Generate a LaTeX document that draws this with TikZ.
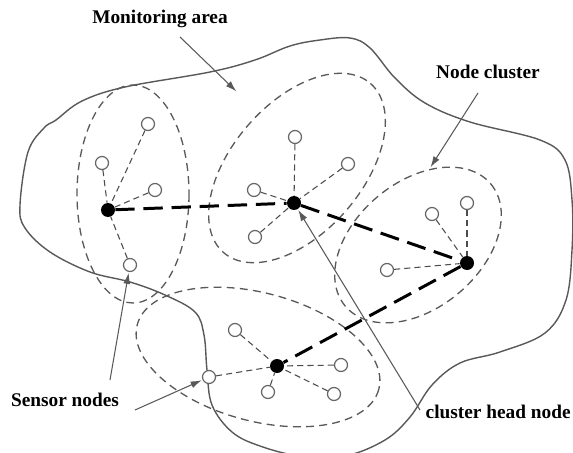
\documentclass[tikz,border=0pt]{standalone}
\usepackage{fontspec}
\setmainfont{Liberation Serif}
\usetikzlibrary{arrows.meta}

\tikzset{
  sensor/.style={circle, draw=black!60, fill=white, line width=0.7pt, minimum size=13*0.02cm, inner sep=0pt},
  head/.style={circle, fill=black, minimum size=14*0.02cm, inner sep=0pt},
  link/.style={draw=black!70, line width=0.6pt, dash pattern=on 3.5pt off 2.3pt},
  backbone/.style={draw=black, line width=1.7pt, dash pattern=on 11pt off 5pt},
  cluster/.style={draw=black!65, line width=0.75pt, dash pattern=on 4.5pt off 3pt},
  area/.style={draw=black!65, line width=0.8pt},
  pointer/.style={draw=black!65, line width=0.6pt, -{Latex[length=2.2mm, width=1.4mm]}, shorten >=0.5pt},
  caption/.style={font=\bfseries\fontsize{11}{13}\selectfont, inner sep=0pt}
}

\begin{document}
\begin{tikzpicture}[x=0.02cm, y=-0.02cm]
\useasboundingbox (0,0) rectangle (573,452);
\clip (0,0) rectangle (573,452);

% monitoring area
\draw[area] plot[smooth cycle, tension=0.6] coordinates {
  (20,205) (28,152) (44,128) (56,120) (82,101) (125,87) (210,72) (255,60) (290,46)
  (320,40) (350,38) (370,48) (395,78) (425,103) (470,122) (540,140) (565,160)
  (572,200) (572,250) (566,300) (545,333) (500,352) (460,363) (432,385) (410,417)
  (385,440) (345,456) (300,456) (260,446) (232,432) (212,405) (207,370) (204,335)
  (195,312) (165,295) (130,282) (90,272) (50,252) (25,228)};

% clusters
\draw[cluster] (133,194) ellipse [x radius=56, y radius=109];
\draw[cluster, rotate around={49:(297,168)}] (297,168) ellipse [x radius=112, y radius=65];
\draw[cluster, rotate around={40:(418,245)}] (418,245) ellipse [x radius=95, y radius=63];
\draw[cluster, rotate around={-15:(258,357)}] (258,357) ellipse [x radius=125, y radius=64];

% cluster heads
\node[head] (h1) at (108,210) {};
\node[head] (h2) at (294,203) {};
\node[head] (h3) at (467,263) {};
\node[head] (h4) at (277,366) {};

% sensor nodes
\node[sensor] (s11) at (148,124) {};
\node[sensor] (s12) at (102,163) {};
\node[sensor] (s13) at (155,190) {};
\node[sensor] (s14) at (130,265) {};
\node[sensor] (s21) at (295,137) {};
\node[sensor] (s22) at (348,164) {};
\node[sensor] (s23) at (254,190) {};
\node[sensor] (s24) at (255,237) {};
\node[sensor] (s31) at (432,214) {};
\node[sensor] (s32) at (467,203) {};
\node[sensor] (s33) at (387,270) {};
\node[sensor] (s41) at (235,330) {};
\node[sensor] (s42) at (341,365) {};
\node[sensor] (s43) at (268,392) {};
\node[sensor] (s44) at (334,394) {};
\node[sensor] (s45) at (209,377) {};

% links to heads
\foreach \s in {s11,s12,s13,s14} \draw[link] (\s) -- (h1);
\foreach \s in {s21,s22,s23,s24} \draw[link] (\s) -- (h2);
\foreach \s in {s31,s32,s33} \draw[link] (\s) -- (h3);
\foreach \s in {s41,s42,s43,s44,s45} \draw[link] (\s) -- (h4);

% backbone between heads
\draw[backbone] (h1) -- (h2);
\draw[backbone] (h2) -- (h3);
\draw[backbone] (h3) -- (h4);

% captions
\node[caption] (ma) at (160,19) {Monitoring area};
\node[caption] (nc) at (488,72) {Node cluster};
\node[caption] (sn) at (65,400) {Sensor nodes};
\node[caption, anchor=east] (chn) at (571,412) {cluster head node};

\coordinate (ma-tail) at (180,37);
\coordinate (ma-tip) at (237,92);
\coordinate (nc-tail) at (478,93);
\coordinate (nc-tip) at (430,168);
\coordinate (sn-tail1) at (110,380);
\coordinate (sn-tail2) at (135,410);
\coordinate (chn-tail) at (420,410);

\draw[pointer] (ma-tail) -- (ma-tip);
\draw[pointer] (nc-tail) -- (nc-tip);
\draw[pointer] (sn-tail1) -- (s14);
\draw[pointer] (sn-tail2) -- (s45);
\draw[pointer] (chn-tail) -- (h2);
\end{tikzpicture}
\end{document}
